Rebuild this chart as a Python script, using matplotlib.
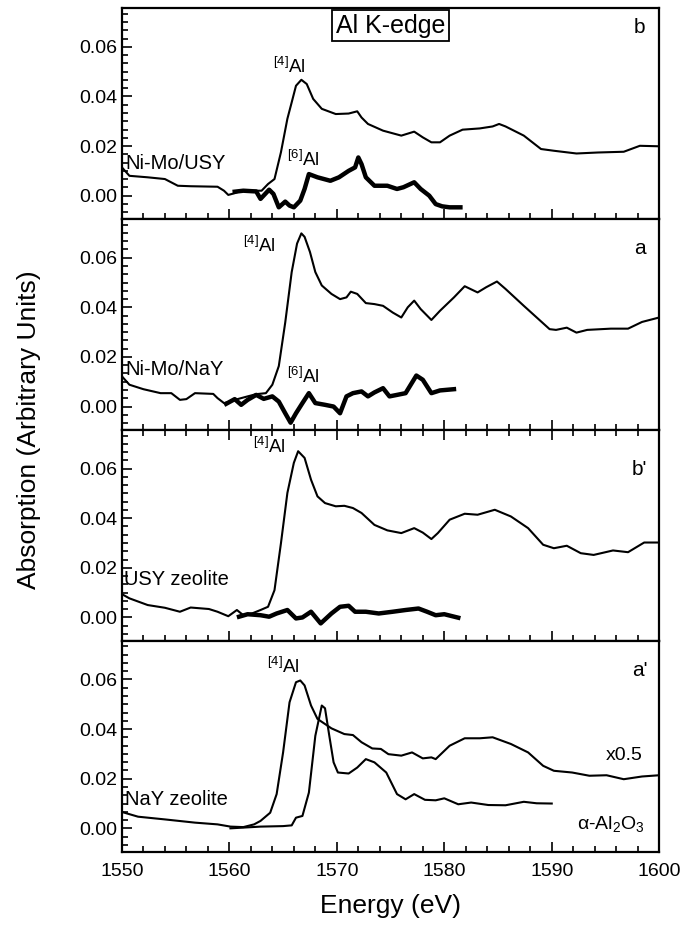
import numpy as np
import matplotlib
matplotlib.use("Agg")
import matplotlib.pyplot as plt
from matplotlib.ticker import MultipleLocator

plt.rcParams['font.family'] = ['Liberation Sans', 'DejaVu Sans']
plt.rcParams['mathtext.fontset'] = 'custom'
plt.rcParams['mathtext.rm'] = 'Liberation Sans'

# ---- panel b : Ni-Mo/USY ----
b_e = [1550, 1550.7, 1552.4, 1554, 1555.2, 1556.4, 1558.9, 1559.5, 1559.9, 1560.5, 1561.1, 1563,
       1563.6, 1564.2, 1564.8, 1565.4, 1565.8, 1566.2, 1566.7, 1567.2, 1567.8, 1568.6, 1569.9,
       1571.1, 1571.9, 1572.3, 1572.9, 1574.3, 1576, 1577.2, 1578, 1578.8, 1579.6, 1580.5,
       1581.7, 1583.3, 1584.5, 1585.1, 1585.7, 1587.4, 1589, 1590.2, 1592.3, 1594.3, 1596.7,
       1598.2, 1600]
b_y = [0.0114, 0.0080, 0.0074, 0.0067, 0.0040, 0.0038, 0.0036, 0.0020, 0.0003, 0.0010, 0.0020,
       0.0020, 0.0047, 0.0067, 0.0175, 0.0310, 0.0376, 0.0443, 0.0467, 0.0450, 0.0390, 0.0350,
       0.0329, 0.0331, 0.0340, 0.0315, 0.0289, 0.0262, 0.0242, 0.0258, 0.0235, 0.0215, 0.0215,
       0.0242, 0.0266, 0.0271, 0.0279, 0.0289, 0.0279, 0.0242, 0.0188, 0.0181, 0.0170, 0.0174,
       0.0177, 0.0201, 0.0199]
b_diff_e = [1560.5, 1561.3, 1562.5, 1562.9, 1563.7, 1564.1, 1564.6, 1565.2, 1565.6, 1566.0,
            1566.6, 1567.0, 1567.4, 1568.2, 1569.4, 1570.2, 1571.1, 1571.7, 1572.0, 1572.3,
            1572.7, 1573.5, 1574.7, 1575.6, 1576.2, 1577.2, 1577.8, 1578.6, 1579.2, 1579.8,
            1580.5, 1581.5]
b_diff_y = [0.0016, 0.0020, 0.0017, -0.0013, 0.0024, 0.0007, -0.0047, -0.0024, -0.0040, -0.0047,
            -0.0020, 0.0027, 0.0087, 0.0074, 0.0060, 0.0074, 0.0100, 0.0114, 0.0154, 0.0127,
            0.0074, 0.0040, 0.0040, 0.0027, 0.0034, 0.0054, 0.0027, 0.0000, -0.0034, -0.0043,
            -0.0047, -0.0047]

# ---- panel a : Ni-Mo/NaY ----
a_e = [1550, 1550.7, 1552, 1553.6, 1554.6, 1555.4, 1556, 1556.8, 1558.5, 1558.9, 1559.5, 1560.1,
       1560.5, 1561.7, 1562.5, 1563.4, 1564, 1564.6, 1565.2, 1565.8, 1566.3, 1566.7, 1567,
       1567.5, 1568, 1568.6, 1569.5, 1570.3, 1570.9, 1571.3, 1571.9, 1572.7, 1573.5, 1574.3,
       1575.2, 1576, 1576.6, 1577.2, 1577.8, 1578.8, 1579.6, 1580.9, 1581.9, 1583.1, 1583.9,
       1584.9, 1585.7, 1587.4, 1588.6, 1589.8, 1590.4, 1591.4, 1592.3, 1593.3, 1595.5, 1597.1,
       1598.4, 1600]
a_y = [0.0122, 0.0088, 0.0070, 0.0054, 0.0054, 0.0027, 0.0030, 0.0054, 0.0051, 0.0034, 0.0014,
       0.0020, 0.0027, 0.0041, 0.0050, 0.0054, 0.0088, 0.0163, 0.0339, 0.0542, 0.0657, 0.0698,
       0.0684, 0.0623, 0.0542, 0.0488, 0.0454, 0.0433, 0.0440, 0.0463, 0.0454, 0.0417, 0.0413,
       0.0406, 0.0379, 0.0359, 0.0400, 0.0427, 0.0393, 0.0349, 0.0386, 0.0440, 0.0485, 0.0460,
       0.0481, 0.0504, 0.0474, 0.0406, 0.0359, 0.0312, 0.0309, 0.0318, 0.0298, 0.0309, 0.0314,
       0.0314, 0.0341, 0.0359]
a_diff_e = [1559.7, 1560.5, 1561.1, 1561.7, 1562.5, 1563.2, 1564, 1564.6, 1565.2, 1565.7, 1566.2,
            1566.8, 1567.4, 1568.0, 1568.9, 1569.7, 1570.3, 1570.9, 1571.5, 1572.3, 1572.9,
            1573.5, 1574.3, 1574.9, 1575.6, 1576.4, 1577.4, 1578.0, 1578.8, 1579.6, 1580.9]
a_diff_y = [0.0011, 0.0030, 0.0007, 0.0027, 0.0047, 0.0031, 0.0041, 0.0020, -0.0027, -0.0065,
            -0.0027, 0.0014, 0.0054, 0.0014, 0.0007, 0.0000, -0.0027, 0.0041, 0.0054, 0.0061,
            0.0041, 0.0057, 0.0074, 0.0041, 0.0047, 0.0054, 0.0125, 0.0108, 0.0054, 0.0065,
            0.0070]

# ---- panel b' : USY zeolite ----
bp_e = [1550, 1550.7, 1552.4, 1554, 1555.4, 1556.4, 1558.1, 1558.9, 1559.9, 1560.7, 1561.3,
        1562.1, 1562.9, 1563.6, 1564.2, 1564.8, 1565.4, 1566, 1566.4, 1567, 1567.6, 1568.2,
        1568.9, 1569.9, 1570.7, 1571.5, 1572.3, 1573.5, 1574.7, 1576, 1577.2, 1578, 1578.8,
        1579.4, 1580.5, 1581.9, 1583.1, 1584.7, 1586.2, 1587.8, 1589.2, 1590.2, 1591.4, 1592.7,
        1593.9, 1595.7, 1597.1, 1598.6, 1600]
bp_y = [0.0094, 0.0077, 0.0050, 0.0039, 0.0023, 0.0040, 0.0034, 0.0023, 0.0005, 0.0030, 0.0009,
        0.0016, 0.0030, 0.0043, 0.0110, 0.0299, 0.0502, 0.0623, 0.0670, 0.0643, 0.0555, 0.0488,
        0.0461, 0.0448, 0.0450, 0.0441, 0.0421, 0.0373, 0.0351, 0.0340, 0.0360, 0.0342, 0.0316,
        0.0340, 0.0394, 0.0418, 0.0414, 0.0434, 0.0407, 0.0360, 0.0293, 0.0279, 0.0289, 0.0259,
        0.0252, 0.0270, 0.0263, 0.0302, 0.0302]
bp_diff_e = [1560.9, 1561.7, 1562.9, 1563.7, 1564.4, 1565.4, 1566.2, 1566.8, 1567.6, 1568.5,
             1569.5, 1570.3, 1571.1, 1571.7, 1572.7, 1573.9, 1575.2, 1576.4, 1577.6, 1578.4,
             1579.2, 1580.0, 1581.3]
bp_diff_y = [0.0003, 0.0013, 0.0009, 0.0003, 0.0016, 0.0030, -0.0004, 0.0000, 0.0023, -0.0024,
             0.0016, 0.0043, 0.0047, 0.0023, 0.0023, 0.0016, 0.0023, 0.0030, 0.0036, 0.0023,
             0.0009, 0.0013, -0.0001]

# ---- panel a' : NaY zeolite (x0.5) and alpha-Al2O3 ----
ap_e = [1550, 1551.5, 1554, 1556.8, 1558.9, 1560.1, 1561.3, 1562.3, 1562.9, 1563.8, 1564.4,
        1565, 1565.6, 1566.2, 1566.6, 1567, 1567.6, 1568.2, 1569.5, 1570.7, 1571.5, 1572.3,
        1573.3, 1574.1, 1574.8, 1576, 1577, 1578, 1578.8, 1579.2, 1580.5, 1581.9, 1583.3,
        1584.5, 1586.2, 1587.8, 1589.2, 1590.2, 1591.9, 1593.5, 1595.1, 1596.7, 1598.4, 1600]
ap_y = [0.0066, 0.0047, 0.0036, 0.0023, 0.0016, 0.0007, 0.0005, 0.0016, 0.0030, 0.0063, 0.0138,
        0.0306, 0.0508, 0.0589, 0.0596, 0.0576, 0.0495, 0.0441, 0.0403, 0.0380, 0.0376, 0.0347,
        0.0322, 0.0320, 0.0299, 0.0293, 0.0306, 0.0282, 0.0286, 0.0279, 0.0333, 0.0363, 0.0363,
        0.0367, 0.0340, 0.0306, 0.0252, 0.0232, 0.0225, 0.0212, 0.0214, 0.0198, 0.0209, 0.0214]
al2o3_e = [1560.1, 1561.3, 1562.9, 1565, 1565.8, 1566.2, 1566.8, 1567.4, 1568, 1568.6, 1568.9,
           1569.3, 1569.7, 1570.1, 1571.1, 1571.9, 1572.7, 1573.5, 1574.6, 1575.6, 1576.4,
           1577.2, 1578.2, 1579.2, 1580, 1581.3, 1582.5, 1584.1, 1585.7, 1587.4, 1588.6, 1590]
al2o3_y = [0.0000, 0.0003, 0.0007, 0.0009, 0.0012, 0.0043, 0.0050, 0.0144, 0.0373, 0.0495,
           0.0484, 0.0373, 0.0266, 0.0225, 0.0221, 0.0245, 0.0279, 0.0266, 0.0225, 0.0138,
           0.0117, 0.0138, 0.0115, 0.0113, 0.0121, 0.0097, 0.0104, 0.0094, 0.0093, 0.0107,
           0.0101, 0.0100]

fig, axes = plt.subplots(4, 1, sharex=True, figsize=(6.81, 9.27), dpi=100)
fig.subplots_adjust(left=0.179, right=0.968, top=0.991, bottom=0.081, hspace=0)

for ax in axes:
    ax.set_xlim(1550, 1600)
    ax.set_ylim(-0.0095, 0.0755)
    ax.set_yticks([0.00, 0.02, 0.04, 0.06])
    ax.yaxis.set_minor_locator(MultipleLocator(0.02 / 6))
    ax.xaxis.set_major_locator(MultipleLocator(10))
    ax.xaxis.set_minor_locator(MultipleLocator(2))
    ax.tick_params(which='both', direction='in', top=False, right=False, labelsize=14, width=1.2)
    ax.tick_params(which='major', length=7)
    ax.tick_params(which='minor', length=4)
    ax.tick_params(axis='x', pad=8)
    ax.yaxis.set_major_formatter(plt.FuncFormatter(lambda v, p: f"{v:.2f}"))
    for s in ax.spines.values():
        s.set_linewidth(1.6)

axes[2].tick_params(which='both', top=True)

thin = dict(color='black', lw=1.5)
thick = dict(color='black', lw=3.2, solid_joinstyle='round')

ax = axes[0]
ax.plot(b_e, b_y, **thin)
ax.plot(b_diff_e, b_diff_y, **thick)
ax.text(1565.6, 0.052, r'$^{[4]}$Al', fontsize=13.5, ha='center', va='center')
ax.text(1566.9, 0.0145, r'$^{[6]}$Al', fontsize=13.5, ha='center', va='center')
ax.text(1550.3, 0.0128, 'Ni-Mo/USY', fontsize=14.5, ha='left', va='center')
ax.text(1575, 0.0685, 'Al K-edge', fontsize=18, ha='center', va='center',
        bbox=dict(facecolor='white', edgecolor='black', lw=1.3, pad=2.5))
ax.text(1598.2, 0.0678, 'b', fontsize=15, ha='center', va='center')

ax = axes[1]
ax.plot(a_e, a_y, **thin)
ax.plot(a_diff_e, a_diff_y, **thick)
ax.text(1562.8, 0.065, r'$^{[4]}$Al', fontsize=13.5, ha='center', va='center')
ax.text(1566.9, 0.0122, r'$^{[6]}$Al', fontsize=13.5, ha='center', va='center')
ax.text(1550.3, 0.0149, 'Ni-Mo/NaY', fontsize=14.5, ha='left', va='center')
ax.text(1598.2, 0.0637, 'a', fontsize=15, ha='center', va='center')

ax = axes[2]
ax.plot(bp_e, bp_y, **thin)
ax.plot(bp_diff_e, bp_diff_y, **thick)
ax.text(1563.7, 0.069, r'$^{[4]}$Al', fontsize=13.5, ha='center', va='center')
ax.text(1550.2, 0.0151, 'USY zeolite', fontsize=14.5, ha='left', va='center')
ax.text(1598.2, 0.0596, "b'", fontsize=15, ha='center', va='center')

ax = axes[3]
ax.plot(ap_e, ap_y, **thin)
ax.plot(al2o3_e, al2o3_y, **thin)
ax.text(1565, 0.065, r'$^{[4]}$Al', fontsize=13.5, ha='center', va='center')
ax.text(1550.3, 0.0117, 'NaY zeolite', fontsize=14.5, ha='left', va='center')
ax.text(1596.7, 0.0293, 'x0.5', fontsize=14, ha='center', va='center')
ax.text(1595.5, 0.0016, 'α-Al$_2$O$_3$', fontsize=14, ha='center', va='center')
ax.text(1598.2, 0.0636, "a'", fontsize=15, ha='center', va='center')
ax.set_xlabel('Energy (eV)', fontsize=19, labelpad=10)

fig.text(0.042, 0.536, 'Absorption (Arbitrary Units)', fontsize=19, rotation=90,
         ha='center', va='center')

plt.savefig('out.png', dpi=100)
